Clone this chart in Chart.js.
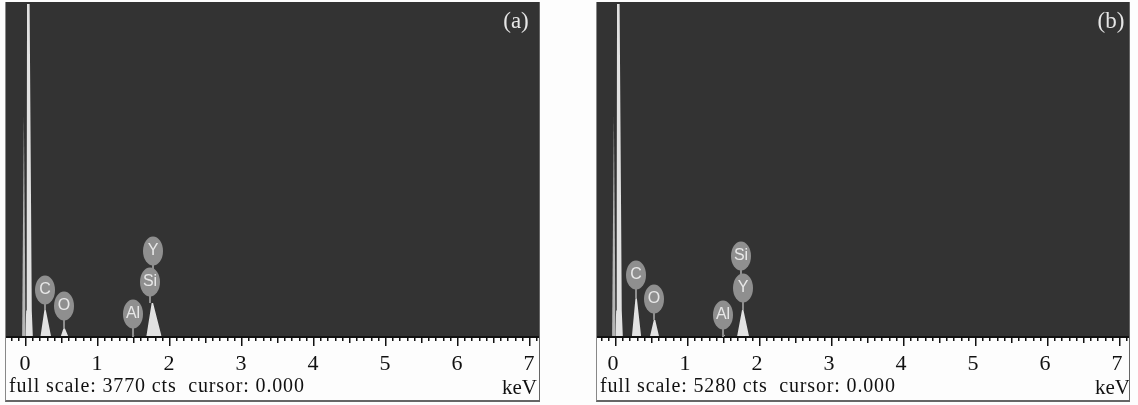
<!DOCTYPE html>
<html>
<head>
<meta charset="utf-8">
<title>EDS spectra</title>
<script src="https://cdn.jsdelivr.net/npm/chart.js@4"></script>
<style>
  html, body { margin: 0; padding: 0; background: #fdfdfd; }
  .panel { position: absolute; top: 2px; height: 400px; box-sizing: border-box; background: #fdfdfd;
           border-right: 1px solid #666; border-bottom: 2px solid #666; border-left: 1px solid #888; }
  #panelA { left: 5px; width: 535px; }
  #panelB { left: 596px; width: 534px; }
  canvas { display: block; }
</style>
</head>
<body>
<div class="panel" id="panelA"><canvas id="chartA" width="533" height="398"></canvas></div>
<div class="panel" id="panelB"><canvas id="chartB" width="532" height="398"></canvas></div>
<script>
// tick labels (keV)
const tickLabels = [0, 1, 2, 3, 4, 5, 6, 7];

// spectrum (a): energy in keV, counts
const energyA = [-0.01, 0.002, 0.01, 0.014, 0.05, 0.07, 0.08, 0.095, 0.2, 0.255, 0.275, 0.35, 0.48, 0.52, 0.54, 0.59, 1.47, 1.49, 1.51, 1.67, 1.745, 1.765, 1.885];
const countsA = [0, 300, 1500, 3770, 3770, 1500, 300, 0, 0, 305, 305, 0, 0, 100, 100, 0, 0, 40, 0, 0, 385, 385, 0];
const noiseXA = [-0.055, -0.03, -0.005];
const noiseYA = [0, 2500, 0];

// spectrum (b)
const energyB = [-0.01, 0.002, 0.01, 0.014, 0.05, 0.07, 0.08, 0.095, 0.22, 0.27, 0.29, 0.35, 0.47, 0.525, 0.545, 0.6, 1.47, 1.495, 1.52, 1.68, 1.75, 1.77, 1.85];
const countsB = [0, 420, 2100, 5280, 5280, 2100, 420, 0, 0, 616, 616, 0, 0, 270, 270, 0, 0, 50, 0, 0, 427, 427, 0];
const noiseXB = [-0.055, -0.03, -0.005];
const noiseYB = [0, 3500, 0];

// element labels: name, position on the scales, where the stem ends
const elements = ['C', 'O', 'Al', 'Si', 'Y'];
const labelXA = [0.264, 0.528, 1.486, 1.722, 1.764];
const labelYA = [532, 351, 260, 623, 974];
const stemYA = [305, 100, 0, 385, 623];
const labelXB = [0.278, 0.528, 1.486, 1.736, 1.764];
const labelYB = [983, 603, 349, 1285, 777];
const stemYB = [616, 270, 0, 777, 427];

const captionA = 'full scale: 3770 cts  cursor: 0.000';
const captionB = 'full scale: 5280 cts  cursor: 0.000';

function toPoints(xs, ys) {
    return xs.map(function (x, i) { return { x: x, y: ys[i] }; });
}

const spectrumPlugin = {
    id: 'spectrum',
    beforeDraw: function (chart) {
        const a = chart.chartArea;
        chart.ctx.fillStyle = '#333333';
        chart.ctx.fillRect(a.left, a.top, a.right - a.left, a.bottom - a.top);
    },
    afterDraw: function (chart, args, opts) {
        const ctx = chart.ctx;
        const xs = chart.scales.x;
        const ys = chart.scales.y;
        const bottom = chart.chartArea.bottom;

        // axis line and the three tick lengths
        ctx.save();
        ctx.fillStyle = '#111';
        ctx.fillRect(0, bottom - 1, chart.width, 2);
        xs.ticks.forEach(function (t, i) {
            const tenths = Math.round(t.value * 10);
            let len = 4;
            if (tenths % 10 === 0) len = 9;
            else if (tenths % 5 === 0) len = 6;
            ctx.fillRect(Math.round(xs.getPixelForTick(i)) - 1, bottom, 1.5, len);
        });

        // stems first, so the badges sit on top
        ctx.strokeStyle = '#8f8f8f';
        ctx.lineWidth = 2;
        elements.forEach(function (name, i) {
            const px = xs.getPixelForValue(opts.labelX[i]);
            ctx.beginPath();
            ctx.moveTo(px, ys.getPixelForValue(opts.labelY[i]));
            ctx.lineTo(px, ys.getPixelForValue(opts.stemY[i]));
            ctx.stroke();
        });
        elements.forEach(function (name, i) {
            const px = xs.getPixelForValue(opts.labelX[i]);
            const py = ys.getPixelForValue(opts.labelY[i]);
            ctx.fillStyle = '#8f8f8f';
            ctx.beginPath();
            ctx.ellipse(px, py, 10, 14.5, 0, 0, Math.PI * 2);
            ctx.fill();
            ctx.fillStyle = '#e8e8e8';
            ctx.font = '16px "Liberation Sans Narrow", "Liberation Sans"';
            ctx.textAlign = 'center';
            ctx.textBaseline = 'middle';
            ctx.fillText(name, px, py);
        });

        // panel tag and the caption lines
        ctx.textBaseline = 'alphabetic';
        ctx.textAlign = 'center';
        ctx.fillStyle = '#e6e6e6';
        ctx.font = '23px "Liberation Serif"';
        ctx.fillText(opts.tag, opts.tagX, 26);
        ctx.textAlign = 'left';
        ctx.fillStyle = '#111';
        ctx.font = '20px "Liberation Serif"';
        ctx.letterSpacing = '0.85px';
        ctx.fillText(opts.caption, 3, 390);
        ctx.font = '21px "Liberation Serif"';
        ctx.letterSpacing = '0px';
        ctx.fillText('keV', chart.width - opts.unitRight, 392);
        ctx.restore();
    }
};

function makeChart(id, xMin, labelShift, energy, counts, noiseX, noiseY, yMax, opts) {
    new Chart(document.getElementById(id), {
        type: 'scatter',
        data: {
            datasets: [
                { data: toPoints(noiseX, noiseY), showLine: true, fill: 'origin', borderWidth: 0, pointRadius: 0, backgroundColor: '#b5b5b5' },
                { data: toPoints(energy, counts), showLine: true, fill: 'origin', borderWidth: 0, pointRadius: 0, backgroundColor: '#e2e2e2' }
            ]
        },
        options: {
            responsive: false,
            animation: false,
            layout: { padding: 0 },
            plugins: { legend: { display: false }, tooltip: { enabled: false }, spectrum: opts },
            scales: {
                x: {
                    type: 'linear',
                    min: xMin,
                    max: 7.125,
                    afterFit: function (scale) {
                        // labels may overhang; keep the plot the full panel width
                        scale.height = 63;
                        scale.paddingLeft = 0;
                        scale.paddingRight = 0;
                    },
                    grid: { display: false },
                    border: { display: false },
                    ticks: {
                        stepSize: 0.1,
                        autoSkip: false,
                        maxRotation: 0,
                        includeBounds: false,
                        labelOffset: labelShift,
                        padding: 6,
                        color: '#111',
                        font: { family: '"Liberation Serif"', size: 22 },
                        callback: function (value) {
                            const whole = Math.round(value);
                            if (Math.abs(value - whole) < 1e-6 && tickLabels.includes(whole)) return String(whole);
                            return '';
                        }
                    }
                },
                y: { display: false, min: 0, max: yMax }
            }
        },
        plugins: [spectrumPlugin]
    });
}

makeChart('chartA', -0.278, -1, energyA, countsA, noiseXA, noiseYA, 3793, {
    tag: '(a)', tagX: 510, caption: captionA, unitRight: 37, labelX: labelXA, labelY: labelYA, stemY: stemYA
});
makeChart('chartB', -0.264, -3, energyB, countsB, noiseXB, noiseYB, 5312, {
    tag: '(b)', tagX: 514, caption: captionB, unitRight: 34, labelX: labelXB, labelY: labelYB, stemY: stemYB
});
</script>
</body>
</html>
